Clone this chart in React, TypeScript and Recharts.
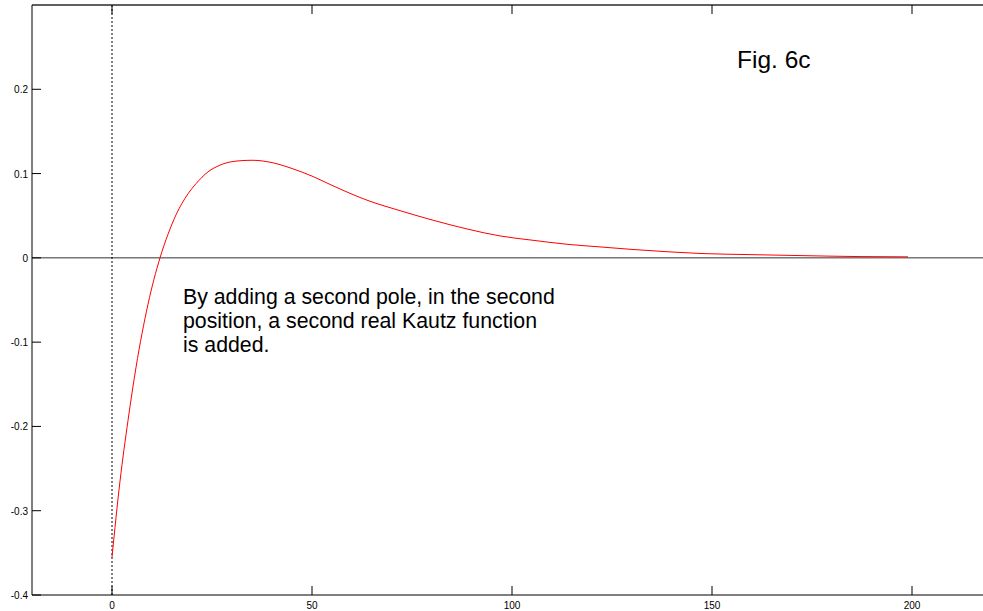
import React from "react";
import {
  LineChart,
  Line,
  XAxis,
  YAxis,
  ReferenceLine,
} from "recharts";

// curve: time index and amplitude
const timeSteps = [
  0, 2, 4, 6, 9, 12, 14, 16, 19, 21, 24, 27, 31, 35, 40, 45, 50, 55, 64, 72,
  80, 89, 97, 105, 114, 122, 130, 139, 147, 160, 172, 187, 199,
];
const amplitude = [
  -0.355, -0.265, -0.193, -0.13, -0.055, 0.0, 0.028, 0.051, 0.076, 0.088,
  0.102, 0.11, 0.1148, 0.1158, 0.113, 0.106, 0.097, 0.086, 0.068, 0.056,
  0.045, 0.034, 0.026, 0.021, 0.016, 0.013, 0.01, 0.0072, 0.0052, 0.0038,
  0.0027, 0.0015, 0.0012,
];
const xTicks = [0, 50, 100, 150, 200];
const yTicks = [-0.4, -0.3, -0.2, -0.1, 0, 0.1, 0.2];
const noteLines = [
  "By adding a second pole, in the second",
  "position, a second real Kautz function",
  "is added.",
];

const data = timeSteps.map((t, i) => ({ t, v: amplitude[i] }));

const FONT = "'Liberation Sans', Arial, sans-serif";

const BottomTick = (props: any) => {
  const { x, y, payload } = props;
  return (
    <g>
      <line x1={x} y1={y} x2={x} y2={y - 9} stroke="#000" />
      <text
        x={x}
        y={y + 14}
        textAnchor="middle"
        fontSize={10}
        fontFamily={FONT}
        fill="#000"
      >
        {payload.value}
      </text>
    </g>
  );
};

const TopTick = (props: any) => {
  const { x, y } = props;
  return <line x1={x} y1={y} x2={x} y2={y + 9} stroke="#000" />;
};

const LeftTick = (props: any) => {
  const { x, y, payload } = props;
  return (
    <g>
      <line x1={x} y1={y} x2={x + 9} y2={y} stroke="#000" />
      <text
        x={x - 4}
        y={y + 4}
        textAnchor="end"
        fontSize={10}
        fontFamily={FONT}
        fill="#000"
      >
        {String(payload.value)}
      </text>
    </g>
  );
};

export default function App() {
  return (
    <div
      style={{
        position: "fixed",
        left: 0,
        top: 0,
        width: 983,
        height: 611,
        overflow: "hidden",
        background: "#fff",
      }}
    >
      <LineChart
        width={1000}
        height={611}
        data={data}
        margin={{ top: 4, right: 8, bottom: 0, left: 0 }}
      >
        <XAxis
          dataKey="t"
          type="number"
          domain={[-20, 220]}
          ticks={xTicks}
          allowDataOverflow
          height={16}
          tickSize={0}
          tickMargin={0}
          tickLine={false}
          axisLine={{ stroke: "#000" }}
          tick={<BottomTick />}
          interval={0}
        />
        <XAxis
          xAxisId="top"
          orientation="top"
          dataKey="t"
          type="number"
          domain={[-20, 220]}
          ticks={xTicks}
          allowDataOverflow
          height={1}
          tickSize={0}
          tickMargin={0}
          tickLine={false}
          axisLine={{ stroke: "#555", strokeWidth: 1.5 }}
          tick={<TopTick />}
          interval={0}
        />
        <YAxis
          type="number"
          domain={[-0.4, 0.3]}
          ticks={yTicks}
          allowDataOverflow
          width={32}
          tickSize={0}
          tickMargin={0}
          tickLine={false}
          axisLine={{ stroke: "#000" }}
          tick={<LeftTick />}
          interval={0}
        />
        <ReferenceLine y={0.3} stroke="#555" strokeWidth={1.5} />
        <ReferenceLine y={0} stroke="#333" />
        <ReferenceLine
          x={0}
          xAxisId="top"
          stroke="#000"
          strokeDasharray="2 2"
        />
        <Line
          type="monotone"
          dataKey="v"
          stroke="#ff0000"
          strokeWidth={1}
          dot={false}
          isAnimationActive={false}
        />
      </LineChart>
      <svg
        width={983}
        height={611}
        style={{ position: "absolute", left: 0, top: 0, pointerEvents: "none" }}
      >
        <text x={737} y={68} fontSize={24.5} fontFamily={FONT} fill="#000">
          Fig. 6c
        </text>
        {noteLines.map((line, i) => (
          <text
            key={i}
            x={183}
            y={304 + i * 24}
            fontSize={21.3}
            fontFamily={FONT}
            fill="#000"
          >
            {line}
          </text>
        ))}
      </svg>
    </div>
  );
}
